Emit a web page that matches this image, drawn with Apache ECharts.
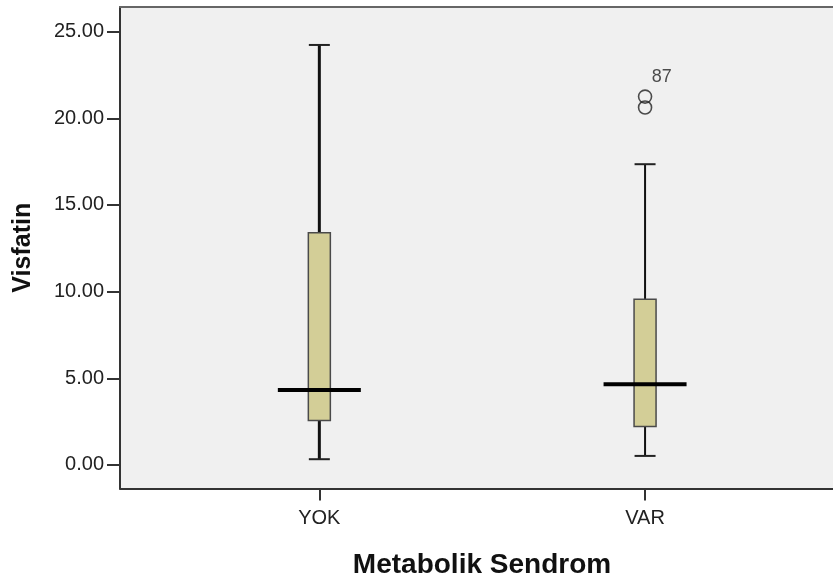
<!DOCTYPE html>
<html>
<head>
<meta charset="utf-8">
<script src="https://cdn.jsdelivr.net/npm/echarts@6/dist/echarts.min.js"></script>
<style>
  html, body { margin: 0; padding: 0; background: #ffffff; }
  #chart { width: 833px; height: 581px; }
</style>
</head>
<body>
<div id="chart"></div>
<script>
// Visfatin by metabolic syndrome group: five-number summaries per group
const categories = ['YOK', 'VAR'];
const whiskerLow = [0.33, 0.52];
const q1 = [2.56, 2.21];
const median = [4.33, 4.66];
const q3 = [13.40, 9.56];
const whiskerHigh = [24.23, 17.35];

// Outliers (group index is 1-based, matching the x positions)
const outlierGroup = [2, 2];
const outlierValues = [21.25, 20.62];
const outlierIds = ['87', ''];

const yTicks = [0, 5, 10, 15, 20, 25];
const xTicks = [1, 2];

const FONT = '"Liberation Sans", Arial, sans-serif';

// Stroke weight of the whisker stems per group
const stemWidth = { YOK: 3, VAR: 2 };

const boxData = categories.map((c, i) => [i + 1, whiskerLow[i], q1[i], median[i], q3[i], whiskerHigh[i]]);

function renderBox(params, api) {
  const xv = api.value(0);
  const name = categories[params.dataIndex];
  const pLow = api.coord([xv, api.value(1)]);
  const pQ1 = api.coord([xv, api.value(2)]);
  const pMed = api.coord([xv, api.value(3)]);
  const pQ3 = api.coord([xv, api.value(4)]);
  const pHigh = api.coord([xv, api.value(5)]);
  const cx = pMed[0];
  const boxW = 22, capW = 21, medW = 83;
  const stem = { stroke: '#111', lineWidth: stemWidth[name] };
  const cap = { stroke: '#222', lineWidth: 2 };
  return {
    type: 'group',
    children: [
      { type: 'line', shape: { x1: cx, y1: pLow[1], x2: cx, y2: pQ1[1] }, style: stem },
      { type: 'line', shape: { x1: cx, y1: pQ3[1], x2: cx, y2: pHigh[1] }, style: stem },
      { type: 'line', shape: { x1: cx - capW / 2, y1: pLow[1], x2: cx + capW / 2, y2: pLow[1] }, style: cap },
      { type: 'line', shape: { x1: cx - capW / 2, y1: pHigh[1], x2: cx + capW / 2, y2: pHigh[1] }, style: cap },
      { type: 'rect', shape: { x: cx - boxW / 2, y: pQ3[1], width: boxW, height: pQ1[1] - pQ3[1] },
        style: { fill: '#D3CE97', stroke: '#4a4a4a', lineWidth: 1.5 } },
      { type: 'line', shape: { x1: cx - medW / 2, y1: pMed[1], x2: cx + medW / 2, y2: pMed[1] },
        style: { stroke: '#000', lineWidth: 4 } }
    ]
  };
}

const chart = echarts.init(document.getElementById('chart'), null, { renderer: 'canvas' });
chart.setOption({
  backgroundColor: '#ffffff',
  animation: false,
  grid: {
    left: 120, top: 7, right: 0, height: 481.5,
    outerBoundsMode: 'none',
    containLabel: false,
    show: true, backgroundColor: '#F0F0F0', borderWidth: 0
  },
  xAxis: [
    {
      type: 'value',
      position: 'bottom',
      min: 0.388, max: 2.577,
      name: 'Metabolik Sendrom',
      nameLocation: 'middle',
      nameGap: 63,
      nameTextStyle: { fontFamily: FONT, fontWeight: 'bold', fontSize: 28, color: '#111', padding: [0, 0, 0, 11] },
      axisLine: { show: true, onZero: false, lineStyle: { color: '#333', width: 2 } },
      axisTick: { show: true, customValues: xTicks, length: 12, lineStyle: { color: '#333', width: 2 } },
      axisLabel: {
        customValues: xTicks,
        formatter: v => categories[Math.round(v) - 1] || '',
        fontFamily: FONT, fontSize: 20, color: '#222', margin: 20
      },
      splitLine: { show: false }
    },
    {
      // frame line along the top of the plot area
      type: 'value',
      position: 'top',
      min: 0.388, max: 2.577,
      axisLine: { show: true, onZero: false, lineStyle: { color: '#666', width: 2 } },
      axisTick: { show: false },
      axisLabel: { show: false },
      splitLine: { show: false }
    }
  ],
  yAxis: {
    type: 'value',
    min: -1.36, max: 26.42,
    name: 'Visfatin',
    nameLocation: 'middle',
    nameGap: 84,
    nameTextStyle: { fontFamily: FONT, fontWeight: 'bold', fontSize: 25, color: '#111' },
    axisLine: { show: true, onZero: false, lineStyle: { color: '#333', width: 2 } },
    axisTick: { show: true, customValues: yTicks, length: 13, lineStyle: { color: '#333', width: 2 } },
    axisLabel: {
      customValues: yTicks,
      formatter: v => v.toFixed(2),
      fontFamily: FONT, fontSize: 20, color: '#222', margin: 16
    },
    splitLine: { show: false }
  },
  series: [
    {
      type: 'custom',
      renderItem: renderBox,
      encode: { x: 0, y: [1, 2, 3, 4, 5] },
      data: boxData,
      clip: false,
      z: 2
    },
    {
      type: 'scatter',
      symbol: 'circle',
      symbolSize: 13,
      itemStyle: { color: 'rgba(0,0,0,0)', borderColor: '#222', borderWidth: 1.6 },
      data: outlierValues.map((v, i) => ({
        value: [outlierGroup[i], v],
        label: {
          show: outlierIds[i] !== '',
          formatter: outlierIds[i],
          position: [14, -21],
          fontFamily: FONT, fontSize: 18, color: '#222'
        }
      })),
      z: 3
    }
  ]
});
</script>
</body>
</html>
